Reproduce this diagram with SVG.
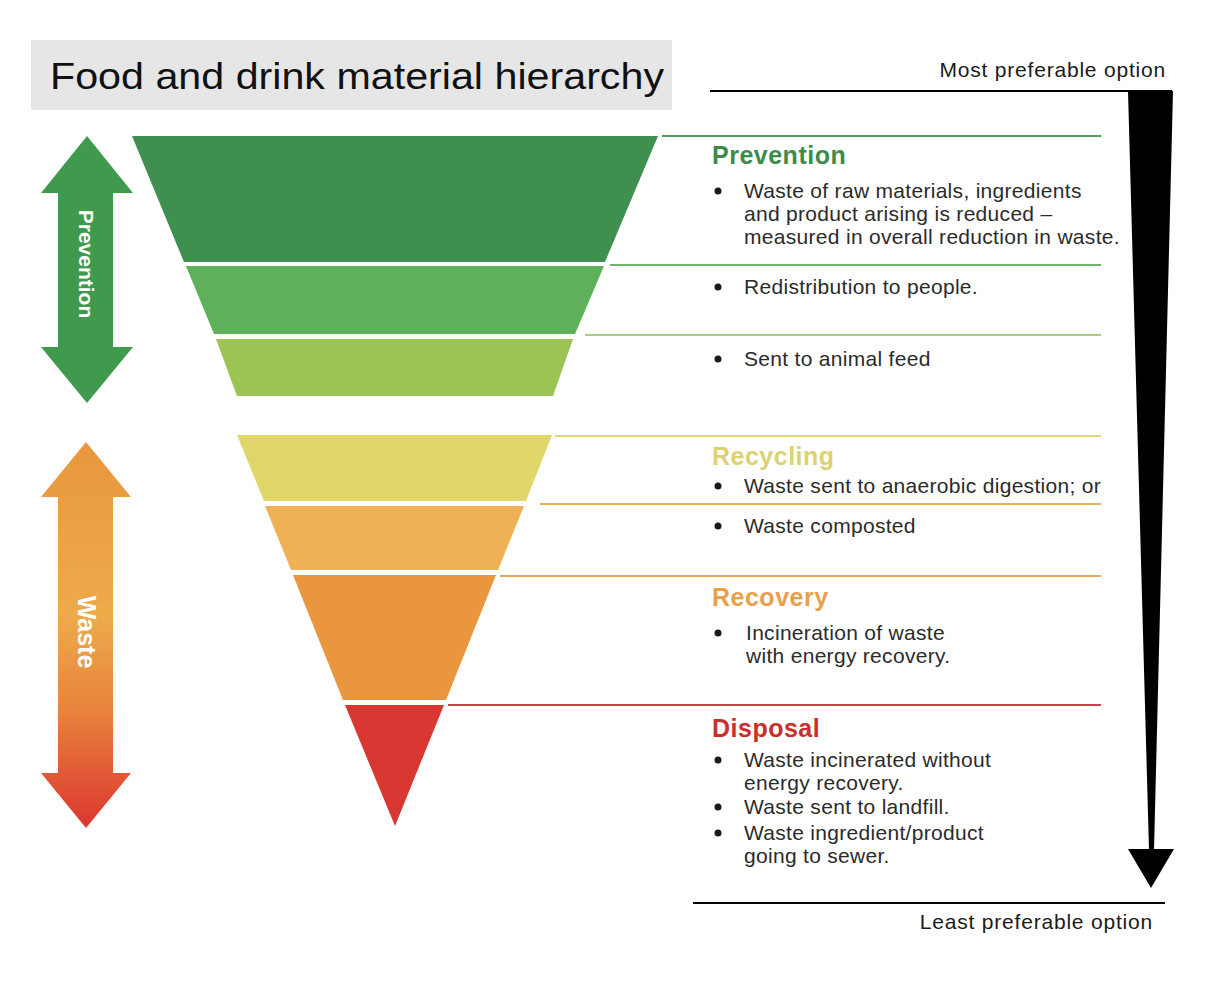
<svg xmlns="http://www.w3.org/2000/svg" width="1226" height="982" viewBox="0 0 1226 982">
<defs>
<linearGradient id="wasteGrad" x1="0" y1="0" x2="0" y2="1">
<stop offset="0" stop-color="#e9963d"/>
<stop offset="0.45" stop-color="#edab4a"/>
<stop offset="0.7" stop-color="#e8823c"/>
<stop offset="1" stop-color="#db3630"/>
</linearGradient>
<style>
.body{font-family:"Liberation Sans",Arial,sans-serif;font-size:21px;letter-spacing:0.3px;fill:#2b2b2b}
.head{font-family:"Liberation Sans",Arial,sans-serif;font-size:25px;letter-spacing:0.5px;font-weight:bold}
.arrowlbl{font-family:"Liberation Sans",Arial,sans-serif;font-weight:bold;fill:#ffffff}
.opt{font-family:"Liberation Sans",Arial,sans-serif;font-size:21px;letter-spacing:0.8px;fill:#1a1a1a}
.sep{stroke-width:2;fill:none}
</style>
</defs>
<rect width="1226" height="982" fill="#ffffff"/>

<g id="title">
<rect x="31" y="40" width="641" height="70" fill="#e6e6e6"/>
<text x="50" y="89" font-family="Liberation Sans, Arial, sans-serif" font-size="37" fill="#111111" textLength="614" lengthAdjust="spacingAndGlyphs">Food and drink material hierarchy</text>
</g>

<g id="arrow-prevention">
<polygon points="87,136 133,193 113,193 113,347 133,347 87,403 41,347 58,347 58,193 41,193" fill="#3f9a4e"/>
<text class="arrowlbl" font-size="21" transform="translate(79,264) rotate(90)" text-anchor="middle">Prevention</text>
</g>

<g id="arrow-waste">
<polygon points="86,442 131,497 113,497 113,773 131,773 86,828 41,773 58,773 58,497 41,497" fill="url(#wasteGrad)"/>
<text class="arrowlbl" font-size="25" transform="translate(78,632) rotate(90)" text-anchor="middle">Waste</text>
</g>

<g id="pyramid-prevention">
<polygon points="132,136 658,136 605,262 184,262" fill="#3f8f4e"/>
<polygon points="186,266 604,266 575,334 214,334" fill="#5fb05a"/>
<polygon points="216,339 573,339 553,396 237,396" fill="#9bc455"/>
</g>

<g id="pyramid-waste">
<polygon points="237,435 552,435 526,501 264,501" fill="#e0d66a"/>
<polygon points="265,506 524,506 498,570 291,570" fill="#efb155"/>
<polygon points="293,575 496,575 446,700 343,700" fill="#e9963e"/>
<polygon points="345,705 444,705 395,826" fill="#d93832"/>
</g>

<g id="connectors">
<line class="sep" x1="662" y1="136" x2="1101" y2="136" stroke="#4f9c5c"/>
<line class="sep" x1="610" y1="265" x2="1101" y2="265" stroke="#6db56a"/>
<line class="sep" x1="585" y1="335" x2="1101" y2="335" stroke="#a8cd7e"/>
<line class="sep" x1="555" y1="436" x2="1101" y2="436" stroke="#e3d57a"/>
<line class="sep" x1="540" y1="504" x2="1101" y2="504" stroke="#e8b15e"/>
<line class="sep" x1="500" y1="576" x2="1101" y2="576" stroke="#e8a55c"/>
<line class="sep" x1="448" y1="705" x2="1101" y2="705" stroke="#c94545"/>
</g>

<g id="text-prevention">
<text class="head" x="712" y="164" fill="#3d8b4a">Prevention</text>
<circle cx="718" cy="191" r="3.5" fill="#1a1a1a"/>
<text class="body" x="744" y="198">Waste of raw materials, ingredients</text>
<text class="body" x="744" y="221">and product arising is reduced –</text>
<text class="body" x="744" y="244">measured in overall reduction in waste.</text>
<circle cx="718" cy="287" r="3.5" fill="#1a1a1a"/>
<text class="body" x="744" y="294">Redistribution to people.</text>
<circle cx="718" cy="359" r="3.5" fill="#1a1a1a"/>
<text class="body" x="744" y="366">Sent to animal feed</text>
</g>

<g id="text-recycling">
<text class="head" x="712" y="465" fill="#dcd273">Recycling</text>
<circle cx="718" cy="486" r="3.5" fill="#1a1a1a"/>
<text class="body" x="744" y="493">Waste sent to anaerobic digestion; or</text>
<circle cx="718" cy="526" r="3.5" fill="#1a1a1a"/>
<text class="body" x="744" y="533">Waste composted</text>
</g>

<g id="text-recovery">
<text class="head" x="712" y="606" fill="#e8a04a">Recovery</text>
<circle cx="718" cy="633" r="3.5" fill="#1a1a1a"/>
<text class="body" x="746" y="640">Incineration of waste</text>
<text class="body" x="746" y="663">with energy recovery.</text>
</g>

<g id="text-disposal">
<text class="head" x="712" y="737" fill="#c9302c">Disposal</text>
<circle cx="718" cy="760" r="3.5" fill="#1a1a1a"/>
<text class="body" x="744" y="767">Waste incinerated without</text>
<text class="body" x="744" y="790">energy recovery.</text>
<circle cx="718" cy="807" r="3.5" fill="#1a1a1a"/>
<text class="body" x="744" y="814">Waste sent to landfill.</text>
<circle cx="718" cy="833" r="3.5" fill="#1a1a1a"/>
<text class="body" x="744" y="840">Waste ingredient/product</text>
<text class="body" x="744" y="863">going to sewer.</text>
</g>

<g id="preference-scale">
<text class="opt" x="1166" y="77" text-anchor="end">Most preferable option</text>
<line x1="710" y1="91" x2="1172" y2="91" stroke="#000000" stroke-width="2"/>
<polygon points="1128,91 1173,91 1154,850 1149,850" fill="#000000"/>
<polygon points="1128,849 1174,849 1151,888" fill="#000000"/>
<line x1="693" y1="903" x2="1165" y2="903" stroke="#000000" stroke-width="2"/>
<text class="opt" x="1153" y="929" text-anchor="end">Least preferable option</text>
</g>
</svg>
